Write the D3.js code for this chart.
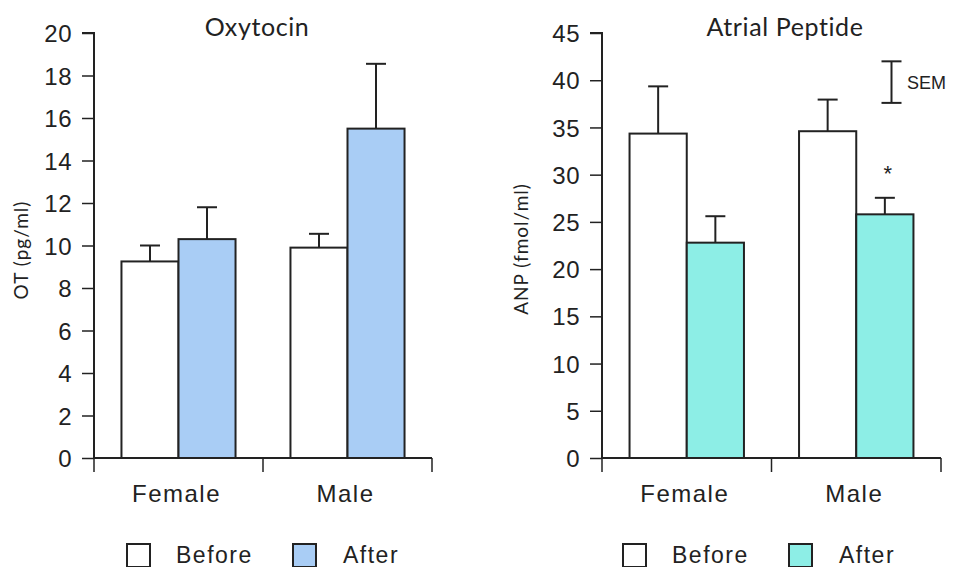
<!DOCTYPE html>
<html>
<head>
<meta charset="utf-8">
<script src="https://cdn.jsdelivr.net/npm/d3@7"></script>
<style>
  html, body { margin: 0; padding: 0; background: #fff; }
  svg { display: block; }
</style>
</head>
<body>
<svg id="chart" width="954" height="567"></svg>
<script>
// ---- data ----
const categories = ["Female", "Male"];
const groups = ["Before", "After"];

const otBefore = [9.25, 9.9];
const otBeforeSem = [0.75, 0.65];
const otAfter = [10.3, 15.5];
const otAfterSem = [1.5, 3.05];
const otTicks = [0, 2, 4, 6, 8, 10, 12, 14, 16, 18, 20];

const anpBefore = [34.35, 34.6];
const anpBeforeSem = [5.0, 3.35];
const anpAfter = [22.8, 25.8];
const anpAfterSem = [2.8, 1.75];
const anpTicks = [0, 5, 10, 15, 20, 25, 30, 35, 40, 45];

const semLegend = [37.6, 42.0];
const significant = [false, true]; // After bars flagged with *

const svg = d3.select("#chart");
const dark = "#222";
const tickFont = "'Liberation Sans', Arial, sans-serif";
const titleFont = "Lato, 'Open Sans', sans-serif";

function panel(opts) {
  const g = svg.append("g");
  const y = d3.scaleLinear().domain([0, opts.max]).range([458, 33]);
  const x = d3.scaleBand().domain(categories).range([opts.x0, opts.x1])
    .paddingInner(0.325).paddingOuter(0.1625);
  const xs = d3.scaleBand().domain(groups).range([0, x.bandwidth()]);

  const rows = [];
  categories.forEach((c, i) => {
    rows.push({cat: c, grp: "Before", v: opts.before[i], sem: opts.beforeSem[i], sig: false});
    rows.push({cat: c, grp: "After", v: opts.after[i], sem: opts.afterSem[i], sig: opts.sig[i]});
  });

  // error bars (drawn behind bars)
  const eb = g.append("g").attr("stroke", dark).attr("stroke-width", 2);
  rows.forEach(r => {
    const cx = x(r.cat) + xs(r.grp) + xs.bandwidth() / 2;
    eb.append("line").attr("x1", cx).attr("x2", cx)
      .attr("y1", y(r.v)).attr("y2", y(r.v + r.sem));
    eb.append("line").attr("x1", cx - 10).attr("x2", cx + 10)
      .attr("y1", y(r.v + r.sem)).attr("y2", y(r.v + r.sem));
  });

  g.append("g").selectAll("rect").data(rows).join("rect")
    .attr("x", d => x(d.cat) + xs(d.grp))
    .attr("y", d => y(d.v))
    .attr("width", xs.bandwidth())
    .attr("height", d => y(0) - y(d.v))
    .attr("fill", d => d.grp === "Before" ? "#ffffff" : opts.color)
    .attr("stroke", dark)
    .attr("stroke-width", 2);

  // significance star
  rows.filter(r => r.sig).forEach(r => {
    const cx = x(r.cat) + xs(r.grp) + xs.bandwidth() / 2 + 3;
    g.append("text").attr("x", cx).attr("y", y(r.v + r.sem) - 17)
      .attr("text-anchor", "middle").attr("font-family", tickFont)
      .attr("font-size", 22).attr("fill", dark).text("*");
  });

  // y axis
  const yAxis = d3.axisLeft(y).tickValues(opts.ticks).tickSize(12).tickPadding(10);
  const ya = g.append("g").attr("transform", `translate(${opts.x0},0)`).call(yAxis);
  ya.select(".domain").attr("stroke", dark).attr("stroke-width", 2)
    .attr("d", `M-12,${y(opts.max)}H0V${y(0)}`);
  ya.selectAll(".tick line").attr("stroke", dark).attr("stroke-width", 1.5);
  ya.selectAll(".tick text").attr("font-family", tickFont).attr("font-size", 24)
    .attr("letter-spacing", 0.5)
    .attr("fill", dark).attr("dy", "0.36em");

  // x axis with boundary ticks
  const xa = g.append("g").attr("stroke", dark);
  xa.append("line").attr("x1", opts.x0).attr("x2", opts.x1)
    .attr("y1", y(0)).attr("y2", y(0)).attr("stroke-width", 2);
  const bounds = d3.range(categories.length + 1).map(i => opts.x0 + i * x.step());
  bounds.forEach(b => {
    xa.append("line").attr("x1", b).attr("x2", b)
      .attr("y1", y(0)).attr("y2", y(0) + 14).attr("stroke-width", 1.5);
  });
  g.append("g").selectAll("text").data(categories).join("text")
    .attr("x", d => x(d) + x.bandwidth() / 2 - 2)
    .attr("y", 502)
    .attr("text-anchor", "middle")
    .attr("font-family", tickFont).attr("font-size", 24).attr("letter-spacing", 1.5)
    .attr("fill", dark)
    .text(d => d);

  // title
  g.append("text").attr("x", opts.titleX).attr("y", 36)
    .attr("text-anchor", "middle").attr("font-family", titleFont)
    .attr("font-size", 25).attr("letter-spacing", 0.6).attr("fill", dark).text(opts.title);

  // y label
  g.append("text")
    .attr("transform", `translate(${opts.labelX},${opts.labelY}) rotate(-90)`)
    .attr("text-anchor", "middle").attr("font-family", titleFont)
    .attr("font-size", 19).attr("letter-spacing", 1).attr("fill", dark).text(opts.ylabel);

  // legend
  const lg = g.append("g");
  groups.forEach((grp, i) => {
    const bx = opts.legendX[i];
    lg.append("rect").attr("x", bx).attr("y", 544).attr("width", 23).attr("height", 23)
      .attr("fill", grp === "Before" ? "#fff" : opts.color)
      .attr("stroke", dark).attr("stroke-width", 2);
    lg.append("text").attr("x", bx + (grp === "Before" ? 49 : 50)).attr("y", 563)
      .attr("font-family", tickFont).attr("font-size", 23).attr("letter-spacing", 1.5)
      .attr("fill", dark).text(grp);
  });

  return {g, x, y};
}

panel({
  x0: 94, x1: 432, max: 20, ticks: otTicks,
  before: otBefore, beforeSem: otBeforeSem, after: otAfter, afterSem: otAfterSem,
  sig: [false, false], color: "#a9cdf5",
  title: "Oxytocin", titleX: 257, ylabel: "OT (pg/ml)", labelX: 28, labelY: 250,
  legendX: [127, 293]
});

const right = panel({
  x0: 602, x1: 941, max: 45, ticks: anpTicks,
  before: anpBefore, beforeSem: anpBeforeSem, after: anpAfter, afterSem: anpAfterSem,
  sig: significant, color: "#8deee6",
  title: "Atrial Peptide", titleX: 785, ylabel: "ANP (fmol/ml)", labelX: 528, labelY: 249,
  legendX: [623, 789]
});

// SEM key
const sx = 891.5;
const sk = right.g.append("g").attr("stroke", dark).attr("stroke-width", 2);
sk.append("line").attr("x1", sx).attr("x2", sx)
  .attr("y1", right.y(semLegend[0])).attr("y2", right.y(semLegend[1]));
semLegend.forEach(v => sk.append("line").attr("x1", sx - 10).attr("x2", sx + 10)
  .attr("y1", right.y(v)).attr("y2", right.y(v)));
right.g.append("text").attr("x", 907).attr("y", (right.y(semLegend[0]) + right.y(semLegend[1])) / 2 + 7)
  .attr("font-family", tickFont).attr("font-size", 18).attr("fill", dark).text("SEM");
</script>
</body>
</html>
